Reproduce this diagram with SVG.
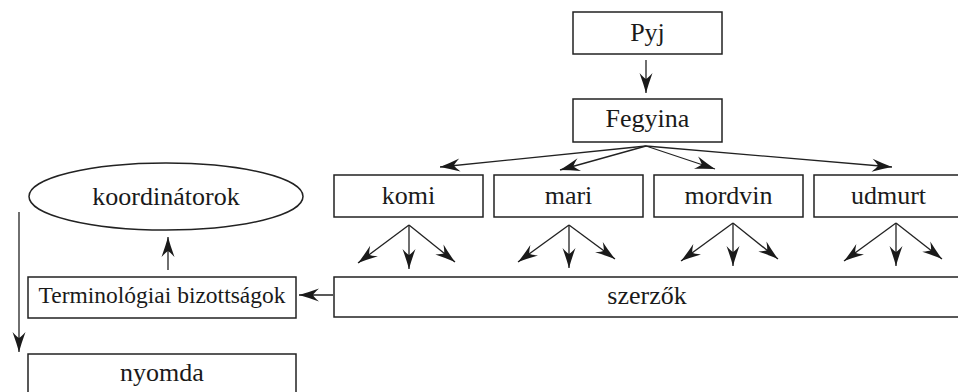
<svg xmlns="http://www.w3.org/2000/svg" width="958" height="392" viewBox="0 0 958 392">
<style>
.box{fill:#fff;stroke:#222;stroke-width:1.5}
.lbl{font-family:"Liberation Serif","Times New Roman","DejaVu Serif",serif;font-size:26px;fill:#1a1a1a;text-anchor:middle}
.con{stroke:#222;stroke-width:1.3;fill:none;marker-end:url(#ah)}
</style>
<defs>
<marker id="ah" markerUnits="userSpaceOnUse" viewBox="-21 -7 22 14" refX="0" refY="0" markerWidth="22" markerHeight="14" orient="auto">
<path d="M0,0 Q-9,-2.5 -20,-6.5 Q-15,-2 -14,0 Q-15,2 -20,6.5 Q-9,2.5 0,0 Z" fill="#1a1a1a"/>
</marker>
</defs>
<rect width="958" height="392" fill="#fff"/>
<g id="pyj"><rect class="box" x="573" y="12" width="149" height="42"/><text class="lbl" x="647.5" y="41">Pyj</text></g>
<g id="fegyina"><rect class="box" x="573" y="99" width="149" height="43"/><text class="lbl" x="647.5" y="127">Fegyina</text></g>
<g id="komi"><rect class="box" x="334" y="175" width="149" height="42"/><text class="lbl" x="408.5" y="204">komi</text></g>
<g id="mari"><rect class="box" x="494" y="175" width="149" height="42"/><text class="lbl" x="568.5" y="204">mari</text></g>
<g id="mordvin"><rect class="box" x="654" y="175" width="149" height="42"/><text class="lbl" x="728.5" y="204">mordvin</text></g>
<g id="udmurt"><rect class="box" x="814" y="175" width="149" height="42"/><text class="lbl" x="888.5" y="204">udmurt</text></g>
<g id="szerzok"><rect class="box" x="334" y="277" width="630" height="40"/><text class="lbl" x="647" y="304">szerzők</text></g>
<g id="terminologiai"><rect class="box" x="28" y="277" width="268" height="41"/><text class="lbl" x="162" y="303" style="font-size:23.5px">Terminológiai bizottságok</text></g>
<g id="koordinatorok"><ellipse class="box" cx="166" cy="196.5" rx="137" ry="33.5"/><text class="lbl" x="166" y="205">koordinátorok</text></g>
<g id="nyomda"><rect class="box" x="28" y="354" width="268" height="44"/><text class="lbl" x="162" y="381">nyomda</text></g>
<g id="connectors">
<line class="con" x1="646" y1="60" x2="646" y2="93"/>
<line class="con" x1="646" y1="146" x2="440" y2="167"/>
<line class="con" x1="646" y1="146" x2="560" y2="170"/>
<line class="con" x1="646" y1="146" x2="715" y2="169"/>
<line class="con" x1="646" y1="146" x2="892" y2="167"/>
<line class="con" x1="409" y1="225" x2="358" y2="263"/>
<line class="con" x1="409" y1="225" x2="409" y2="269"/>
<line class="con" x1="409" y1="225" x2="455" y2="262"/>
<line class="con" x1="569" y1="225" x2="518" y2="262"/>
<line class="con" x1="569" y1="225" x2="569" y2="268"/>
<line class="con" x1="569" y1="225" x2="615" y2="259"/>
<line class="con" x1="733" y1="223" x2="681" y2="261"/>
<line class="con" x1="733" y1="223" x2="733" y2="266"/>
<line class="con" x1="733" y1="223" x2="778" y2="259"/>
<line class="con" x1="896" y1="223" x2="844" y2="261"/>
<line class="con" x1="896" y1="223" x2="896" y2="266"/>
<line class="con" x1="896" y1="223" x2="942" y2="259"/>
<line class="con" x1="333" y1="295" x2="299" y2="295"/>
<line class="con" x1="168" y1="270" x2="168" y2="237"/>
<line class="con" x1="19" y1="212" x2="19" y2="352"/>
</g>
</svg>
